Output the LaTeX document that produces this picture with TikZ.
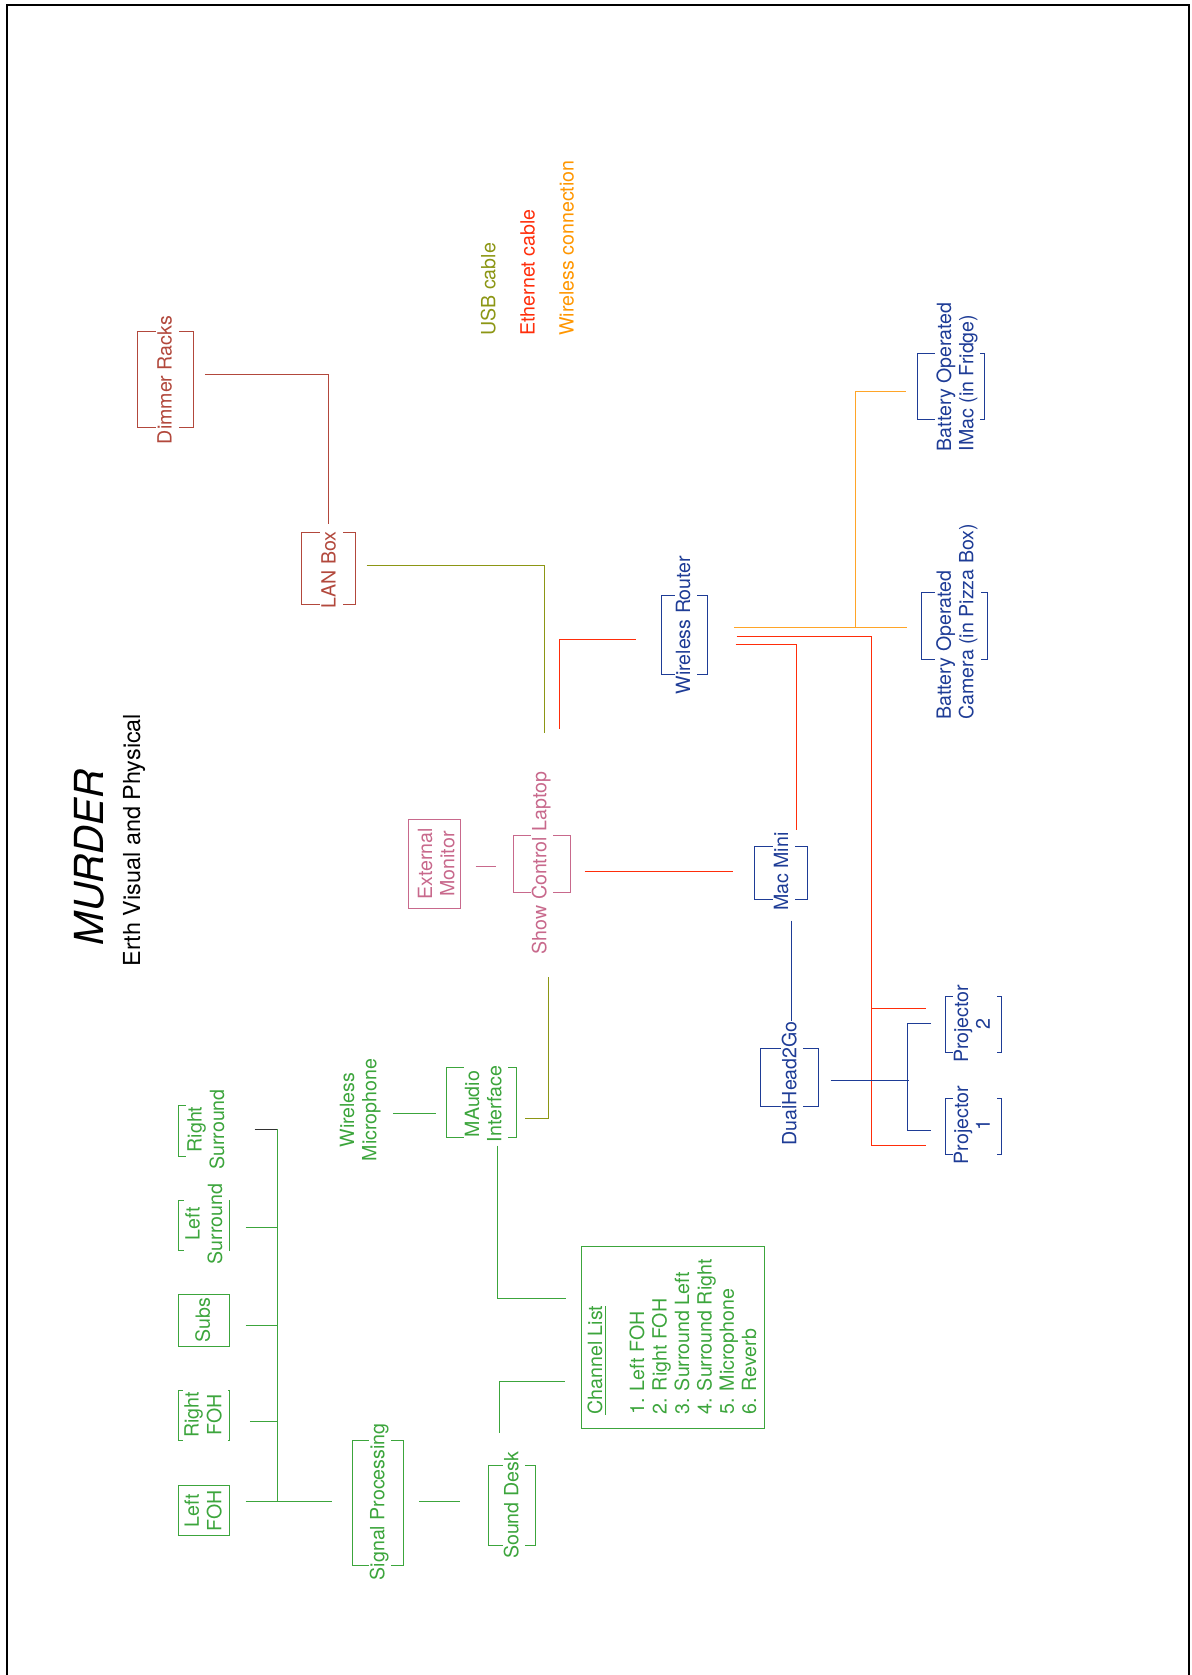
\documentclass[tikz,border=0pt]{standalone}
\usepackage{fontspec}
\setmainfont{TeX Gyre Heros}
\usetikzlibrary{calc,fit}
\definecolor{cbrn}{RGB}{178,72,60}
\definecolor{cpnk}{RGB}{200,105,140}
\definecolor{cgrn}{RGB}{60,165,60}
\definecolor{cblu}{RGB}{30,60,150}
\definecolor{cusb}{RGB}{140,150,20}
\definecolor{ceth}{RGB}{255,45,10}
\definecolor{cwif}{RGB}{255,150,0}
\definecolor{cwifl}{RGB}{255,165,40}
\definecolor{cdrk}{RGB}{50,50,50}
\begin{document}
\begin{tikzpicture}[x=0.5pt,y=-0.5pt,
  bx/.style={draw=#1, line width=0.5pt, inner sep=0pt},
  lbl/.style={rotate=90, font=\fontsize{9.8pt}{9.8pt}\selectfont, align=center, inner xsep=1.75pt, inner ysep=0.6pt, fill=white, text=#1},
  txt/.style={rotate=90, font=\fontsize{9.8pt}{9.8pt}\selectfont, align=left, inner sep=0pt, text=#1},
  con/.style={draw=#1, line width=0.5pt}]
\useasboundingbox (0,0) rectangle (1192,1675);
\clip (0,0) rectangle (1192,1675);
\draw[line width=1pt] (6.7,5) rectangle (1188.8,1700);

% title
\node[rotate=90, font=\fontsize{20pt}{24pt}\selectfont\itshape, anchor=base, inner sep=0pt] (title) at (103,857.5) {MURDER};
\node[rotate=90, font=\fontsize{11.7pt}{14pt}\selectfont, anchor=base, inner sep=0pt] (subtitle) at (140,840) {Erth Visual and Physical};

% legend
\node[txt=cusb, anchor=west] (legusb) at (491,336) {\strut USB cable};
\node[txt=ceth, anchor=west] (legeth) at (530.3,336) {\strut Ethernet cable};
\node[txt=cwif, anchor=west] (legwif) at (569.3,336) {\strut Wireless connection};

% boxes
\node[bx=cbrn, fit={(137.7,331.7) (193.3,427.7)}] (dimmer) {};
\node[bx=cbrn, fit={(301.7,532.7) (355.3,604.3)}] (lan) {};
\node[bx=cpnk, fit={(408.3,819.3) (460,908.3)}] (extmon) {};
\node[bx=cpnk, fit={(513.3,835.7) (570,892.3)}] (laptop) {};
\node[bx=cgrn, fit={(446.7,1067.3) (516,1137.7)}] (maudio) {};
\node[bx=cgrn, fit={(581.7,1246.7) (764.3,1428.3)}] (chlist) {};
\node[bx=cgrn, fit={(488.3,1465.5) (535.7,1545.6)}] (sdesk) {};
\node[bx=cgrn, fit={(352.3,1440) (403.3,1565)}] (sigproc) {};
\node[bx=cgrn, fit={(178.3,1485.7) (229.3,1535.7)}] (lfoh) {};
\node[bx=cgrn, fit={(178.3,1390) (229.3,1440.7)}] (rfoh) {};
\node[bx=cgrn, fit={(178.3,1294.7) (229.3,1346)}] (subs) {};
\node[bx=cgrn, fit={(178.3,1200) (229.3,1250.7)}] (lsur) {};
\node[bx=cgrn, fit={(178.3,1105) (229.3,1156)}] (rsur) {};
\node[bx=cblu, fit={(661.7,595.7) (707.3,674)}] (router) {};
\node[bx=cblu, fit={(754.3,846.7) (807.3,899.3)}] (mac) {};
\node[bx=cblu, fit={(760,1048.3) (818.3,1106.7)}] (dh) {};
\node[bx=cblu, fit={(945,996.7) (1001,1052.7)}] (proj2) {};
\node[bx=cblu, fit={(945,1098.3) (1001,1154)}] (proj1) {};
\node[bx=cblu, fit={(921,592.3) (987.3,659)}] (cam) {};
\node[bx=cblu, fit={(917.7,353.3) (984,419.3)}] (imac) {};

% labels
\node[lbl=cbrn] (dimmerT) at (167.5,380) {\strut Dimmer Racks};
\node[lbl=cbrn] (lanT) at (331.5,570) {\strut LAN Box};
\node[lbl=cpnk, fill=none] (extmonT) at (439,864) {\strut External\\\strut Monitor};
\node[lbl=cpnk] (laptopT) at (542,863) {\strut Show Control Laptop};
\node[lbl=cgrn] (maudioT) at (486,1104) {\strut MAudio\\\strut Interface};
\node[lbl=cgrn, fill=none] (wmicT) at (361,1110) {\strut Wireless\\\strut Microphone};
\node[txt=cgrn, anchor=north west] (chlistT) at (587,1415) {\strut\underline{Channel List}\\\strut\\\strut 1. Left FOH\\\strut 2. Right FOH\\\strut 3. Surround Left\\\strut 4. Surround Right\\\strut 5. Microphone\\\strut 6. Reverb};
\node[lbl=cgrn] (sdeskT) at (514,1505.5) {\strut Sound Desk};
\node[lbl=cgrn] (sigprocT) at (380,1501.8) {\strut Signal Processing};
\node[lbl=cgrn, fill=none] (lfohT) at (205.8,1510.7) {\strut Left\\\strut FOH};
\node[lbl=cgrn] (rfohT) at (205.8,1415) {\strut Right\\\strut FOH};
\node[lbl=cgrn, fill=none] (subsT) at (205.4,1320) {\strut Subs};
\node[lbl=cgrn] (lsurT) at (206.6,1224) {\strut Left\\\strut Surround};
\node[lbl=cgrn] (rsurT) at (208.6,1129.5) {\strut Right\\\strut Surround};
\node[lbl=cblu] (routerT) at (686,625) {\strut Wireless Router};
\node[lbl=cblu] (macT) at (784,871.7) {\strut Mac Mini};
\node[lbl=cblu] (dhT) at (792,1083.3) {\strut DualHead2Go};
\node[lbl=cblu] (proj2T) at (974.7,1023.8) {\strut Projector\\\strut 2};
\node[lbl=cblu] (proj1T) at (974.7,1125) {\strut Projector\\\strut 1};
\node[lbl=cblu, align=left, anchor=west] (camT) at (957.8,723.5) {\strut Battery Operated\\\strut Camera (in Pizza Box)};
\node[lbl=cblu, align=left, anchor=west] (imacT) at (957.8,455.2) {\strut Battery Operated\\\strut IMac (in Fridge)};

% connectors
\draw[con=cbrn] ($(dimmer.east)+(11,-5.4)$) -| ($(lan.north)+(-0.2,-8.4)$);
\draw[con=cusb] ($(lan.east)+(10.7,-3.2)$) -| ($(laptop.north)+(3,-102.7)$);
\draw[con=ceth] ($(laptop.north)+(18.3,-106.7)$) |- ($(router.west)+(-25,4.2)$);
\coordinate (d1) at ($(extmon.east)+(15,2.2)$);
\draw[con=cpnk, shorten >=8.3pt] (d1) -- (d1 -| laptop.west);
\coordinate (e1) at ($(laptop.east)+(14,7)$);
\draw[con=ceth, shorten >=10.5pt] (e1) -- (e1 -| mac.west);
\draw[con=cusb] ($(laptop.south)+(7.3,84.4)$) |- ($(maudio.east)+(8,15.8)$);
\draw[con=cgrn] ($(maudio.west)+(-53.4,10.8)$) -- ($(maudio.west)+(-10.7,10.8)$);
\draw[con=cgrn] ($(maudio.south)+(15.7,7.3)$) |- ($(chlist.west)+(-15,-39.2)$);
\draw[con=cgrn] ($(sdesk.north)+(-12.7,-32.2)$) |- ($(chlist.west)+(-16.7,43.5)$);
\coordinate (j1) at ($(sigproc.east)+(15,-1.5)$);
\draw[con=cgrn, shorten >=13.8pt] (j1) -- (j1 -| sdesk.west);
\coordinate (k0) at ($(lfoh.east)+(15.7,-9.7)$);
\draw[con=cgrn, shorten >=9.8pt] (k0) -- (k0 -| sigproc.west);
\draw[con=cgrn] ($(lfoh.east)+(47.4,-9.7)$) -- ($(rsur.east)+(47.4,-1.2)$);
\draw[con=cgrn] ($(rfoh.east)+(20,5.7)$) -- ($(rfoh.east)+(47.4,5.7)$);
\draw[con=cgrn] ($(subs.east)+(15.7,5)$) -- ($(subs.east)+(47.4,5)$);
\draw[con=cgrn] ($(lsur.east)+(15.7,2)$) -- ($(lsur.east)+(47.4,2)$);
\draw[con=cdrk] ($(rsur.east)+(24.7,-1.2)$) -- ($(rsur.east)+(47.4,-1.2)$);
\draw[con=cwifl] ($(router.east)+(26,-7.15)$) -- ($(router.east)+(199.4,-7.15)$);
\draw[con=cwifl] ($(router.east)+(147.2,-7.15)$) |- ($(imac.west)+(-11,5.4)$);
\draw[con=ceth] ($(router.east)+(28.7,1.45)$) -| ($(proj1.west)+(-73.3,18.85)$) -- ($(proj1.west)+(-18.3,18.85)$);
\draw[con=ceth] ($(proj2.west)+(-73.3,-16.4)$) -- ($(proj2.west)+(-18.3,-16.4)$);
\draw[con=ceth] ($(router.east)+(27.7,9.15)$) -| ($(mac.north)+(15.2,-16.7)$);
\coordinate (o1) at ($(mac.south)+(10.9,20.7)$);
\coordinate (o2) at ($(dh.north)+(0,-26.6)$);
\draw[con=cblu] (o1) -- (o1 |- o2);
\draw[con=cblu] ($(dh.east)+(11.7,2.5)$) -- ($(dh.east)+(90,2.5)$);
\draw[con=cblu] ($(proj2.west)+(-13.3,-1.4)$) -| ($(proj1.west)+(-36.7,3.85)$) -- ($(proj1.west)+(-13.3,3.85)$);
\end{tikzpicture}
\end{document}
